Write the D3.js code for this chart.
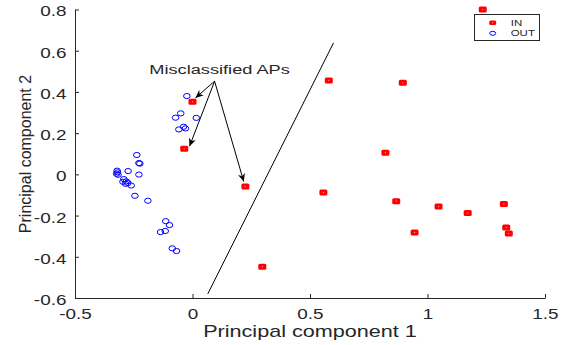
<!DOCTYPE html>
<html>
<head>
<meta charset="utf-8">
<script src="https://cdn.jsdelivr.net/npm/d3@7"></script>
<style>
  body { margin: 0; background: #fff; }
  text { font-family: "Liberation Sans", Arial, sans-serif; fill: #262626; }
</style>
</head>
<body>
<svg id="mySvg" width="565" height="345"></svg>
<script>
// data
var inPoints = [
    [0.0, 0.352], [-0.035, 0.124], [0.225, -0.059],
    [0.58, 0.456], [0.895, 0.444], [0.821, 0.105], [0.557, -0.088],
    [0.867, -0.13], [1.047, -0.156], [1.171, -0.188], [1.325, -0.144],
    [0.945, -0.282], [1.335, -0.258], [1.346, -0.287], [0.297, -0.448],
    [1.235, 0.80]
];
var outPoints = [
    [-0.024, 0.380], [-0.050, 0.296], [-0.072, 0.275], [0.016, 0.274],
    [-0.058, 0.218], [-0.038, 0.231], [-0.030, 0.223],
    [-0.237, 0.094], [-0.228, 0.055], [-0.224, 0.052],
    [-0.321, 0.018], [-0.319, 0.010], [-0.323, 0.003], [-0.317, -0.002],
    [-0.274, 0.016], [-0.228, -0.001], [-0.292, -0.023], [-0.282, -0.034],
    [-0.275, -0.042], [-0.261, -0.054], [-0.285, -0.046], [-0.296, -0.036],
    [-0.245, -0.104], [-0.190, -0.128], [-0.114, -0.227], [-0.098, -0.246],
    [-0.136, -0.280], [-0.116, -0.275], [-0.086, -0.359], [-0.068, -0.372]
];
// separating line and annotation arrows
var boundary = [[0.065, -0.58], [0.6, 0.638]];
var arrowFrom = [0.094, 0.452];
var arrowTo = [[0.0128, 0.371], [-0.0128, 0.136], [0.218, -0.035]];
var noteText = "Misclassified APs";
var notePos = [0.115, 0.489];

var xTicks = [-0.5, 0, 0.5, 1, 1.5];
var xTickLabels = ["-0.5", "0", "0.5", "1", "1.5"];
var yTicks = [-0.6, -0.4, -0.2, 0, 0.2, 0.4, 0.6, 0.8];
var yTickLabels = ["-0.6", "-0.4", "-0.2", "0", "0.2", "0.4", "0.6", "0.8"];
var legendLabels = ["IN", "OUT"];

var sx = 1.35; // horizontal stretch of the text in the picture

var svg = d3.select("#mySvg");

var xScale = d3.scaleLinear().domain([-0.5, 1.5]).range([75, 545]);
var yScale = d3.scaleLinear().domain([-0.6, 0.8]).range([298, 9.5]);

// arrow head
svg.append("defs").append("marker")
    .attr("id", "head")
    .attr("viewBox", "0 -5 10 10")
    .attr("refX", 10)
    .attr("refY", 0)
    .attr("markerWidth", 8)
    .attr("markerHeight", 8)
    .attr("markerUnits", "userSpaceOnUse")
    .attr("orient", "auto")
    .append("path")
    .attr("d", "M0,-4.5L10,0L0,4.5L3,0Z")
    .attr("fill", "#000");

// axes
var x_axis = d3.axisBottom(xScale)
    .tickValues(xTicks)
    .tickFormat(function(d, i) { return xTickLabels[i]; })
    .tickSizeInner(-4)
    .tickSizeOuter(0)
    .tickPadding(0);

var y_axis = d3.axisLeft(yScale)
    .tickValues(yTicks)
    .tickFormat(function(d, i) { return yTickLabels[i]; })
    .tickSizeInner(-4)
    .tickSizeOuter(0)
    .tickPadding(0);

var gx = svg.append("g")
    .attr("transform", "translate(0,298)")
    .call(x_axis);
gx.selectAll("text")
    .attr("y", 21)
    .attr("dy", null)
    .attr("font-size", 14)
    .attr("transform", "scale(" + sx + ",1)");

var gy = svg.append("g")
    .attr("transform", "translate(75,0)")
    .call(y_axis);
gy.selectAll("text")
    .attr("x", -8.6 / sx)
    .attr("y", 2)
    .attr("dy", "0.32em")
    .attr("font-size", 14)
    .attr("transform", "scale(" + sx + ",1)");

svg.selectAll(".domain, .tick line")
    .attr("stroke", "#262626")
    .attr("stroke-width", 1);
svg.selectAll(".tick text").attr("fill", "#262626").style("font-family", null);

// axis labels
svg.append("text")
    .attr("text-anchor", "middle")
    .attr("font-size", 16)
    .attr("transform", "translate(310,337) scale(" + sx + ",1)")
    .text("Principal component 1");

svg.append("text")
    .attr("text-anchor", "middle")
    .attr("font-size", 16)
    .attr("transform", "translate(31,154) rotate(-90)")
    .text("Principal component 2");

// separating line
svg.append("line")
    .attr("x1", xScale(boundary[0][0]))
    .attr("y1", yScale(boundary[0][1]))
    .attr("x2", xScale(boundary[1][0]))
    .attr("y2", yScale(boundary[1][1]))
    .attr("stroke", "#000")
    .attr("stroke-width", 1);

// OUT points
svg.selectAll(".out")
    .data(outPoints)
    .enter()
    .append("ellipse")
    .attr("class", "out")
    .attr("cx", d => xScale(d[0]))
    .attr("cy", d => yScale(d[1]))
    .attr("rx", 3.3)
    .attr("ry", 2.6)
    .attr("fill", "none")
    .attr("stroke", "#0000ff")
    .attr("stroke-width", 1);

// IN points
function drawIn(sel, w, h) {
    sel.append("rect")
        .attr("x", -w / 2)
        .attr("y", -h / 2)
        .attr("width", w)
        .attr("height", h)
        .attr("rx", 1.5)
        .attr("fill", "#ff0000");
    sel.append("rect")
        .attr("x", -0.5)
        .attr("y", -0.5)
        .attr("width", 1)
        .attr("height", 1)
        .attr("fill", "#ffb0b0");
}

var inG = svg.selectAll(".in")
    .data(inPoints)
    .enter()
    .append("g")
    .attr("class", "in")
    .attr("transform", d => "translate(" + xScale(d[0]) + "," + yScale(d[1]) + ")");
drawIn(inG, 8, 6);

// annotation
svg.append("text")
    .attr("text-anchor", "middle")
    .attr("font-size", 13.5)
    .attr("fill", "#000")
    .attr("transform", "translate(" + xScale(notePos[0]) + "," + yScale(notePos[1]) + ") scale(" + sx + ",1)")
    .text(noteText);

svg.selectAll(".arrow")
    .data(arrowTo)
    .enter()
    .append("line")
    .attr("class", "arrow")
    .attr("x1", xScale(arrowFrom[0]))
    .attr("y1", yScale(arrowFrom[1]))
    .attr("x2", d => xScale(d[0]))
    .attr("y2", d => yScale(d[1]))
    .attr("stroke", "#000")
    .attr("stroke-width", 1)
    .attr("marker-end", "url(#head)");

// legend
var legend = svg.append("g").attr("class", "legend");
legend.append("rect")
    .attr("x", 474.5)
    .attr("y", 14.5)
    .attr("width", 65)
    .attr("height", 26)
    .attr("fill", "#fff")
    .attr("stroke", "#262626")
    .attr("stroke-width", 1);

var li = legend.append("g").attr("transform", "translate(492.7,22.7)");
drawIn(li, 7, 4.5);
legend.append("ellipse")
    .attr("cx", 492.7)
    .attr("cy", 33.3)
    .attr("rx", 3)
    .attr("ry", 2)
    .attr("fill", "none")
    .attr("stroke", "#0000ff")
    .attr("stroke-width", 1);

legend.selectAll(".ltext")
    .data(legendLabels)
    .enter()
    .append("text")
    .attr("class", "ltext")
    .attr("font-size", 8.5)
    .attr("dy", "0.35em")
    .attr("transform", (d, i) => "translate(510.7," + (22.7 + i * 10.6) + ") scale(" + sx + ",1)")
    .text(d => d);
</script>
</body>
</html>
